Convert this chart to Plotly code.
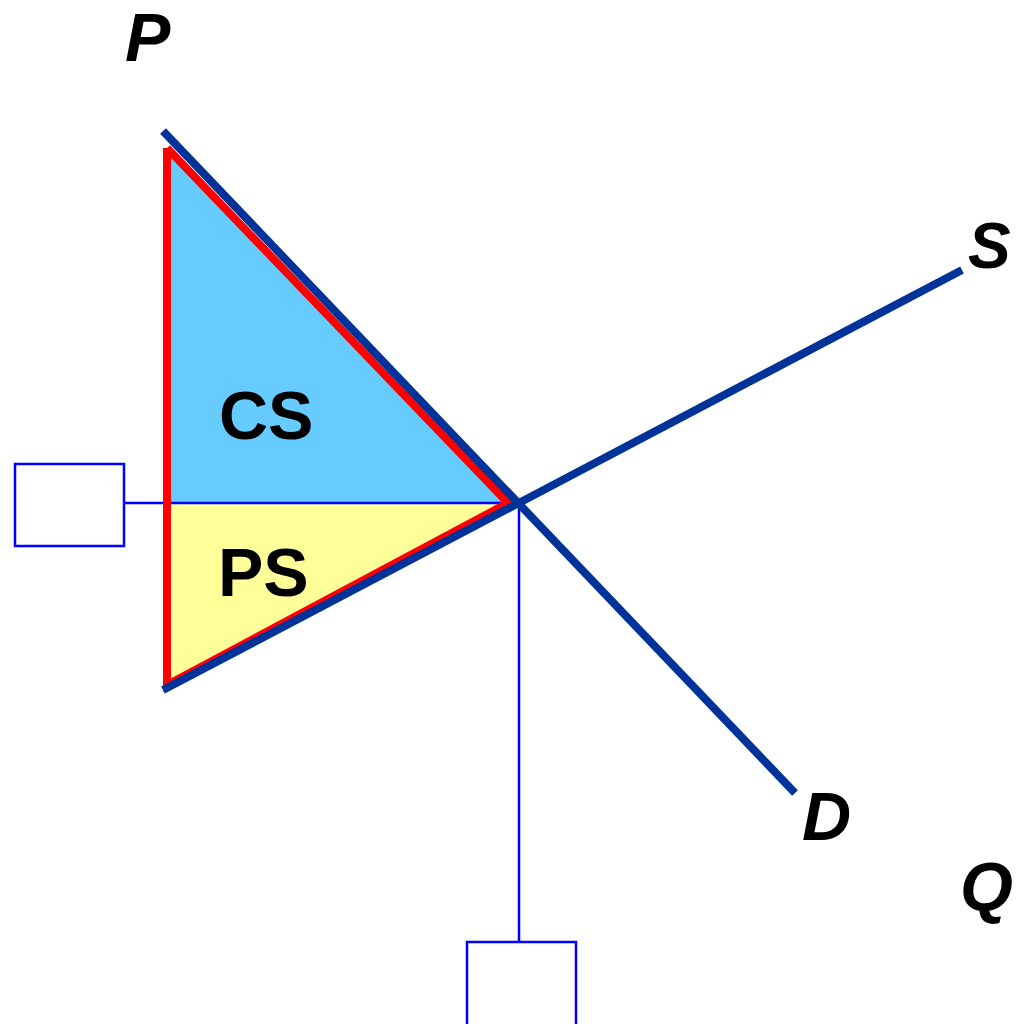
import plotly.graph_objects as go

# curves, in chart units (quantity right, price up)
demand_q = [163, 795]
demand_p = [893, 231]
supply_q = [163, 962]
supply_p = [334, 754]

# equilibrium and the price axis where the surplus areas start
eq_q = 519
eq_p = 521
axis_q = 167
cs_top_p = 876
ps_bottom_p = 339
apex_q = 508

labels = ["CS", "PS"]

fig = go.Figure()

# consumer surplus (blue) and producer surplus (yellow)
fig.add_trace(go.Scatter(
    x=[axis_q, apex_q, axis_q, axis_q],
    y=[cs_top_p, eq_p, eq_p, cs_top_p],
    fill='toself', fillcolor='#66CCFF',
    mode='lines', line=dict(width=0), hoverinfo='skip'
))
fig.add_trace(go.Scatter(
    x=[axis_q, apex_q, axis_q, axis_q],
    y=[eq_p, eq_p, ps_bottom_p, eq_p],
    fill='toself', fillcolor='#FFFF99',
    mode='lines', line=dict(width=0), hoverinfo='skip'
))

# price guide line from the left box to equilibrium
fig.add_trace(go.Scatter(
    x=[125, eq_q], y=[eq_p, eq_p],
    mode='lines', line=dict(color='#0000FF', width=2.5), hoverinfo='skip'
))
# quantity guide line down to the bottom box
fig.add_trace(go.Scatter(
    x=[eq_q, eq_q], y=[eq_p, 82],
    mode='lines', line=dict(color='#0000FF', width=2.5), hoverinfo='skip'
))

# red outline around total surplus
fig.add_trace(go.Scatter(
    x=[axis_q, axis_q, apex_q, axis_q],
    y=[cs_top_p, ps_bottom_p, eq_p, cs_top_p],
    mode='lines', line=dict(color='#FF0000', width=8), hoverinfo='skip'
))

# demand and supply
fig.add_trace(go.Scatter(
    x=demand_q, y=demand_p, mode='lines',
    line=dict(color='#003399', width=8), hoverinfo='skip'
))
fig.add_trace(go.Scatter(
    x=supply_q, y=supply_p, mode='lines',
    line=dict(color='#003399', width=8), hoverinfo='skip'
))

# empty answer boxes
fig.add_shape(type='rect', x0=15, x1=124, y0=478, y1=560,
              line=dict(color='#0000FF', width=2.5), fillcolor='rgba(0,0,0,0)')
fig.add_shape(type='rect', x0=467, x1=576, y0=-10, y1=82,
              line=dict(color='#0000FF', width=2.5), fillcolor='rgba(0,0,0,0)')

font = 'Liberation Sans, Arial, sans-serif'
texts = [
    ('<b>' + labels[0] + '</b>', 266, 609, 68),
    ('<b>' + labels[1] + '</b>', 263, 452, 68),
    ('<b><i>P</i></b>', 148, 987, 68),
    ('<b><i>S</i></b>', 989, 778, 64),
    ('<b><i>D</i></b>', 826, 208, 68),
    ('<b><i>Q</i></b>', 986, 138, 68),
]
for t, x, y, s in texts:
    fig.add_annotation(x=x, y=y, text=t, showarrow=False, borderpad=0,
                       font=dict(family=font, size=s, color='black'))

# the page body has an 8px margin, so the ranges are shifted to compensate
fig.update_layout(
    width=1023, height=1024,
    margin=dict(l=0, r=0, t=0, b=0),
    showlegend=False,
    plot_bgcolor='white', paper_bgcolor='white',
    xaxis=dict(range=[8, 1031], visible=False),
    yaxis=dict(range=[-8, 1016], visible=False),
)

fig.write_html("out.html")
